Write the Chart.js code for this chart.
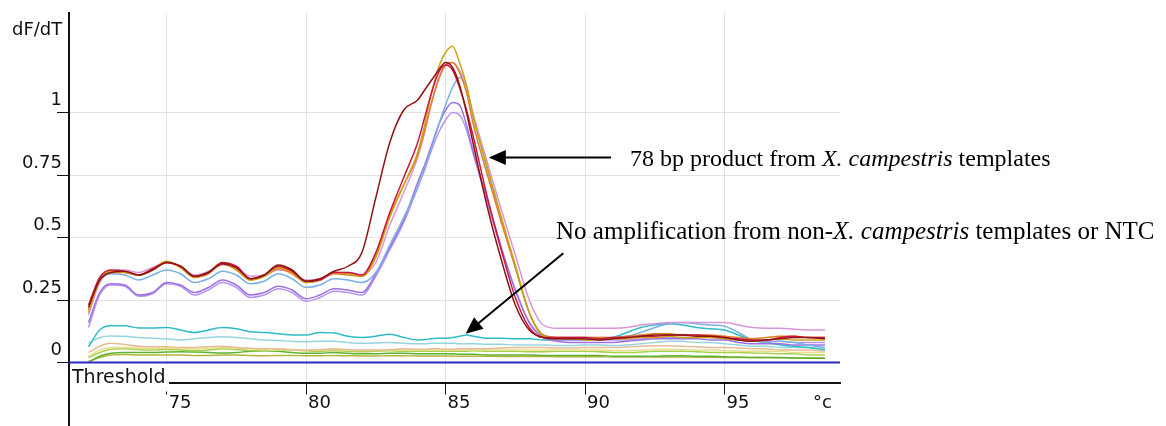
<!DOCTYPE html>
<html>
<head>
<meta charset="utf-8">
<script src="https://cdn.jsdelivr.net/npm/chart.js@4.4.1/dist/chart.umd.min.js"></script>
<style>html,body{margin:0;padding:0;background:#fff;}canvas{display:block;}</style>
</head>
<body>
<canvas id="c" width="1166" height="426"></canvas>
<script>
// ---- data (temperature °C, dF/dT) ----
const temps = [72.2,72.6,73,73.5,74,74.5,75,75.5,76,76.5,77,77.5,78,78.5,79,79.5,80,80.5,81,81.5,82,82.5,83,83.5,84,84.25,84.5,84.75,85,85.25,85.5,85.75,86,86.5,87,87.5,88,88.5,89,89.5,90,90.5,91,91.5,92,92.5,93,93.5,94,94.5,95,95.5,96,96.5,97,97.5,98,98.6];

const darkRed = [0.22,0.33,0.36,0.365,0.35,0.37,0.40,0.385,0.345,0.36,0.395,0.38,0.335,0.35,0.39,0.37,0.325,0.335,0.365,0.385,0.44,0.66,0.88,1.01,1.05,1.09,1.13,1.17,1.20,1.18,1.11,1.00,0.87,0.62,0.41,0.23,0.13,0.10,0.095,0.095,0.095,0.09,0.095,0.10,0.105,0.11,0.11,0.11,0.105,0.105,0.10,0.09,0.085,0.09,0.095,0.10,0.10,0.095];
const gold = [0.20,0.33,0.365,0.36,0.35,0.375,0.405,0.38,0.34,0.36,0.40,0.375,0.33,0.345,0.38,0.36,0.32,0.33,0.36,0.355,0.345,0.42,0.58,0.71,0.84,0.95,1.08,1.18,1.24,1.265,1.20,1.11,0.98,0.78,0.58,0.39,0.20,0.105,0.095,0.095,0.09,0.09,0.095,0.095,0.10,0.10,0.105,0.10,0.10,0.10,0.095,0.09,0.085,0.09,0.095,0.09,0.09,0.09];
const orange = [0.21,0.33,0.36,0.36,0.35,0.37,0.40,0.38,0.34,0.355,0.395,0.37,0.33,0.345,0.375,0.355,0.32,0.33,0.355,0.35,0.345,0.43,0.59,0.71,0.83,0.93,1.04,1.13,1.19,1.20,1.16,1.08,0.95,0.75,0.56,0.38,0.20,0.11,0.10,0.10,0.10,0.10,0.10,0.105,0.11,0.115,0.115,0.11,0.11,0.11,0.105,0.10,0.095,0.10,0.105,0.105,0.10,0.10];
const crimson = [0.23,0.34,0.37,0.365,0.35,0.375,0.40,0.385,0.345,0.36,0.40,0.385,0.335,0.35,0.385,0.365,0.325,0.33,0.36,0.36,0.35,0.44,0.60,0.74,0.88,0.98,1.08,1.16,1.19,1.17,1.10,1.01,0.90,0.66,0.45,0.26,0.14,0.10,0.10,0.10,0.10,0.095,0.10,0.10,0.105,0.105,0.11,0.11,0.11,0.105,0.10,0.095,0.09,0.09,0.10,0.105,0.10,0.10];
const pink = [0.19,0.32,0.365,0.37,0.36,0.38,0.40,0.385,0.35,0.365,0.39,0.38,0.345,0.35,0.37,0.36,0.33,0.335,0.36,0.36,0.35,0.40,0.55,0.68,0.82,0.92,1.04,1.14,1.19,1.20,1.17,1.10,0.99,0.80,0.61,0.43,0.25,0.15,0.137,0.137,0.137,0.137,0.137,0.14,0.15,0.155,0.16,0.16,0.16,0.16,0.16,0.15,0.14,0.137,0.137,0.133,0.13,0.13];
const lightBlue = [0.20,0.32,0.355,0.35,0.33,0.35,0.37,0.355,0.32,0.335,0.365,0.35,0.315,0.325,0.355,0.335,0.30,0.31,0.335,0.33,0.32,0.36,0.47,0.58,0.70,0.78,0.86,0.95,1.03,1.10,1.14,1.10,0.98,0.77,0.57,0.38,0.20,0.11,0.10,0.10,0.10,0.10,0.10,0.105,0.12,0.14,0.155,0.16,0.155,0.15,0.145,0.12,0.09,0.08,0.085,0.08,0.07,0.06];
const purple = [0.16,0.28,0.315,0.31,0.27,0.28,0.32,0.31,0.28,0.30,0.33,0.31,0.27,0.28,0.305,0.29,0.255,0.27,0.295,0.29,0.28,0.355,0.46,0.57,0.72,0.79,0.87,0.95,1.01,1.04,1.03,0.95,0.84,0.65,0.46,0.29,0.16,0.10,0.085,0.08,0.08,0.08,0.08,0.085,0.09,0.095,0.095,0.095,0.095,0.09,0.09,0.08,0.075,0.075,0.075,0.07,0.07,0.07];
const violet = [0.14,0.27,0.31,0.305,0.265,0.275,0.315,0.305,0.27,0.29,0.32,0.30,0.26,0.27,0.295,0.28,0.245,0.26,0.285,0.28,0.27,0.345,0.45,0.56,0.70,0.77,0.85,0.92,0.97,1.00,0.99,0.93,0.83,0.64,0.45,0.29,0.16,0.10,0.09,0.09,0.09,0.09,0.09,0.09,0.095,0.10,0.10,0.10,0.10,0.10,0.095,0.09,0.085,0.085,0.085,0.08,0.08,0.08];

const cyan = [0.063,0.13,0.147,0.147,0.138,0.138,0.14,0.13,0.12,0.13,0.14,0.135,0.123,0.12,0.115,0.11,0.11,0.12,0.118,0.105,0.10,0.105,0.113,0.10,0.09,0.092,0.095,0.097,0.097,0.10,0.105,0.11,0.105,0.097,0.097,0.095,0.095,0.09,0.09,0.09,0.09,0.095,0.10,0.12,0.14,0.15,0.155,0.15,0.14,0.135,0.13,0.11,0.09,0.08,0.07,0.065,0.06,0.05];
const lightCyan = [0.077,0.10,0.106,0.105,0.10,0.097,0.095,0.09,0.095,0.10,0.103,0.10,0.095,0.09,0.088,0.085,0.083,0.085,0.085,0.08,0.077,0.078,0.08,0.077,0.075,0.075,0.077,0.077,0.077,0.077,0.075,0.075,0.075,0.073,0.073,0.07,0.07,0.07,0.068,0.068,0.07,0.07,0.068,0.07,0.075,0.08,0.085,0.085,0.08,0.08,0.075,0.07,0.065,0.065,0.06,0.06,0.06,0.055];
const peach = [0.04,0.065,0.077,0.072,0.065,0.063,0.063,0.06,0.06,0.063,0.065,0.06,0.057,0.055,0.055,0.052,0.05,0.052,0.055,0.052,0.05,0.05,0.052,0.055,0.053,0.053,0.055,0.055,0.053,0.053,0.055,0.055,0.055,0.055,0.058,0.06,0.06,0.06,0.058,0.058,0.06,0.06,0.06,0.062,0.065,0.067,0.067,0.065,0.063,0.06,0.06,0.058,0.055,0.055,0.05,0.05,0.05,0.045];
const paleYellow = [0.025,0.05,0.06,0.06,0.058,0.056,0.058,0.056,0.054,0.056,0.06,0.058,0.055,0.052,0.05,0.05,0.048,0.05,0.052,0.05,0.048,0.048,0.05,0.05,0.05,0.05,0.05,0.05,0.05,0.05,0.05,0.05,0.05,0.05,0.05,0.05,0.05,0.05,0.05,0.05,0.05,0.05,0.048,0.048,0.05,0.052,0.052,0.052,0.05,0.05,0.048,0.046,0.045,0.045,0.045,0.04,0.04,0.04];
const yellowGreen = [0.02,0.04,0.053,0.055,0.052,0.05,0.052,0.05,0.047,0.05,0.055,0.052,0.048,0.047,0.05,0.05,0.047,0.045,0.047,0.045,0.043,0.045,0.047,0.045,0.045,0.045,0.045,0.045,0.045,0.045,0.045,0.045,0.047,0.045,0.045,0.045,0.043,0.043,0.045,0.045,0.045,0.043,0.04,0.04,0.042,0.045,0.045,0.045,0.043,0.04,0.04,0.04,0.038,0.037,0.035,0.035,0.03,0.03];
const green = [0.0,0.025,0.037,0.04,0.04,0.04,0.042,0.043,0.042,0.04,0.038,0.04,0.045,0.047,0.045,0.04,0.037,0.037,0.04,0.037,0.035,0.035,0.037,0.037,0.035,0.035,0.035,0.035,0.035,0.035,0.033,0.033,0.033,0.03,0.03,0.03,0.03,0.028,0.028,0.028,0.028,0.028,0.025,0.025,0.025,0.025,0.027,0.027,0.025,0.025,0.023,0.022,0.02,0.02,0.02,0.018,0.017,0.017];
const olive = [0.005,0.02,0.03,0.032,0.03,0.03,0.03,0.03,0.028,0.028,0.03,0.03,0.028,0.027,0.028,0.028,0.027,0.027,0.028,0.027,0.026,0.026,0.027,0.027,0.026,0.026,0.026,0.026,0.026,0.026,0.025,0.025,0.025,0.025,0.024,0.024,0.024,0.024,0.023,0.023,0.023,0.023,0.022,0.022,0.022,0.022,0.022,0.022,0.021,0.021,0.02,0.02,0.02,0.02,0.019,0.018,0.018,0.018];

const thresholdValue = 0;
const xTicks = [75, 80, 85, 90, 95];
const xTickLabels = ['75', '80', '85', '90', '95'];
const yTicks = [0, 0.25, 0.5, 0.75, 1];
const yTickLabels = ['0', '0.25', '0.5', '0.75', '1'];
const yAxisLabel = 'dF/dT';
const xUnitLabel = '°c';
const thresholdLabel = 'Threshold';

// ---- styling ----
const seriesList = [
  [darkRed, '#8e1414'], [crimson, '#cc1840'], [gold, '#c9a514'], [orange, '#e2802a'],
  [pink, '#d896d8'], [lightBlue, '#7ab0e6'], [purple, '#9a72e2'], [violet, '#b894f2'],
  [cyan, '#2fbcc8'], [lightCyan, '#95d6de'], [peach, '#e8bc94'], [paleYellow, '#e6e08e'],
  [yellowGreen, '#a8d04a'], [green, '#5cb232'], [olive, '#b4b43c']
];

const datasets = [{
  data: [{x: 71.5, y: thresholdValue}, {x: 99.14, y: thresholdValue}],
  borderColor: '#2a2ac4', borderWidth: 2.2, tension: 0
}];
seriesList.forEach(([vals, col]) => {
  datasets.push({
    data: temps.map((t, i) => ({x: t, y: vals[i]})),
    borderColor: col, borderWidth: 1.5,
    cubicInterpolationMode: 'monotone'
  });
});

const annotations = {
  id: 'annotations',
  afterDraw(chart) {
    const c = chart.ctx, a = chart.chartArea;
    const xs = chart.scales.x, ys = chart.scales.y;
    c.save();
    // y axis continues below the x axis
    c.strokeStyle = '#111'; c.lineWidth = 2;
    c.beginPath(); c.moveTo(a.left, a.bottom); c.lineTo(a.left, chart.height); c.stroke();
    // Threshold label box
    c.fillStyle = '#fff';
    c.fillRect(a.left + 1, ys.getPixelForValue(thresholdValue) + 2, 99, 27);
    c.fillStyle = '#111';
    c.font = '19px "DejaVu Sans"';
    c.textBaseline = 'alphabetic'; c.textAlign = 'left';
    c.fillText(thresholdLabel, a.left + 3, a.bottom);
    // axis captions
    c.font = '18px "DejaVu Sans"';
    c.fillText(yAxisLabel, 12, 35);
    c.fillText(xUnitLabel, 813, 408);

    // arrows
    function arrow(x1, y1, x2, y2) {
      const px1 = xs.getPixelForValue(x1), py1 = ys.getPixelForValue(y1);
      const px2 = xs.getPixelForValue(x2), py2 = ys.getPixelForValue(y2);
      const ang = Math.atan2(py2 - py1, px2 - px1);
      const L = 17, W = 7.5;
      c.strokeStyle = '#000'; c.lineWidth = 2;
      c.beginPath(); c.moveTo(px1, py1);
      c.lineTo(px2 - Math.cos(ang) * (L - 2), py2 - Math.sin(ang) * (L - 2)); c.stroke();
      c.fillStyle = '#000';
      c.beginPath();
      c.moveTo(px2, py2);
      c.lineTo(px2 - Math.cos(ang) * L - Math.sin(ang) * W, py2 - Math.sin(ang) * L + Math.cos(ang) * W);
      c.lineTo(px2 - Math.cos(ang) * L + Math.sin(ang) * W, py2 - Math.sin(ang) * L - Math.cos(ang) * W);
      c.closePath(); c.fill();
    }
    arrow(90.93, 0.82, 86.55, 0.82);
    arrow(89.22, 0.437, 85.72, 0.115);

    function rich(parts, x, y, size) {
      let px = xs.getPixelForValue(x);
      const py = ys.getPixelForValue(y);
      c.fillStyle = '#000'; c.textAlign = 'left'; c.textBaseline = 'alphabetic';
      parts.forEach(([t, it]) => {
        c.font = (it ? 'italic ' : '') + size + 'px "Liberation Serif"';
        c.fillText(t, px, py);
        px += c.measureText(t).width;
      });
    }
    rich([['78 bp product from ', false], ['X. campestris', true], [' templates', false]], 91.61, 0.788, 24);
    rich([['No amplification from non-', false], ['X. campestris', true], [' templates or NTC', false]], 88.96, 0.494, 25);
    c.restore();
  }
};

new Chart(document.getElementById('c'), {
  type: 'line',
  data: { datasets },
  plugins: [annotations],
  options: {
    responsive: false,
    animation: false,
    layout: { padding: { top: 13, right: 326, left: 0, bottom: 0 } },
    plugins: { legend: { display: false }, tooltip: { enabled: false } },
    elements: { point: { radius: 0 } },
    scales: {
      x: {
        type: 'linear', min: 71.5, max: 99.14,
        afterBuildTicks: s => { s.ticks = xTicks.map(v => ({ value: v })); },
        afterFit: s => { s.height = 43.5; },
        ticks: {
          align: 'start', labelOffset: 2, padding: -2, color: '#111',
          font: { family: 'DejaVu Sans', size: 18 },
          callback: v => xTickLabels[xTicks.indexOf(v)]
        },
        grid: { color: '#e2e2e2', lineWidth: 1, tickColor: '#111', tickLength: 12 },
        border: { color: '#111', width: 2 }
      },
      y: {
        min: -0.08, max: 1.398,
        afterBuildTicks: s => { s.ticks = yTicks.map(v => ({ value: v })); },
        afterFit: s => { s.width = 69; },
        ticks: {
          labelOffset: -12, padding: -5, color: '#111',
          font: { family: 'DejaVu Sans', size: 18 },
          callback: v => yTickLabels[yTicks.indexOf(v)]
        },
        grid: { color: '#e2e2e2', lineWidth: 1, tickColor: '#111', tickLength: 12 },
        border: { color: '#111', width: 2 }
      }
    }
  }
});
</script>
</body>
</html>
